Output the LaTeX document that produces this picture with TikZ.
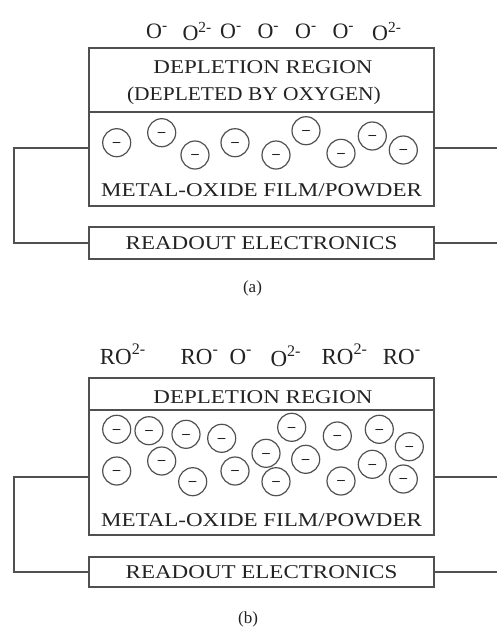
\documentclass[tikz,border=0pt]{standalone}
\usepackage{fontspec}
\setmainfont{Liberation Serif}
\newfontfamily\boxfont[FakeStretch=1.18]{Liberation Serif}
\newfontfamily\parenfont[FakeStretch=1.1]{Liberation Serif}
\definecolor{linec}{HTML}{505050}
\definecolor{textc}{HTML}{222222}
\begin{document}
\begin{tikzpicture}[x=1pt,y=-1pt,
  box/.style={draw=linec, line width=1.6pt, inner sep=0pt, minimum width=345pt, rectangle},
  boxtext/.style={font=\boxfont\fontsize{19.5}{24}\selectfont, text=textc, inner sep=0pt, anchor=base},
  readbox/.style={box, font=\boxfont\fontsize{19.5}{24}\selectfont, text=textc},
  elec/.style={circle, draw=linec, line width=1.2pt, minimum size=28pt, inner sep=0pt,
    font=\bfseries\fontsize{15}{15}\selectfont, text height=7.4pt, text depth=0pt, text=textc},
  ion/.style={anchor=base west, inner sep=0pt, text=textc},
  ionA/.style={ion, font=\fontsize{22}{22}\selectfont},
  ionB/.style={ion, font=\fontsize{23}{23}\selectfont},
  wire/.style={draw=linec, line width=1.6pt},
  caption/.style={anchor=base, inner sep=0pt, text=textc, font=\fontsize{17}{17}\selectfont}]
\useasboundingbox (0,0) rectangle (497,630);

% ---------------- (a) ----------------
\node[ionA] (ionA1) at (146,38) {O\textsuperscript{-}};
\node[ionA] (ionA2) at (182.3,40.4) {O\textsuperscript{2-}};
\node[ionA] (ionA3) at (220,38) {O\textsuperscript{-}};
\node[ionA] (ionA4) at (257.3,38) {O\textsuperscript{-}};
\node[ionA] (ionA5) at (295,38) {O\textsuperscript{-}};
\node[ionA] (ionA6) at (332.3,38) {O\textsuperscript{-}};
\node[ionA] (ionA7) at (372,40.4) {O\textsuperscript{2-}};

\node[box, minimum height=64pt] (depA) at (261.5,80) {};
\node[box, minimum height=94pt] (filmA) at (261.5,159) {};
\node[readbox, minimum height=32pt] (readA) at (261.5,243) {READOUT ELECTRONICS};

\node[boxtext] (depA1) at (263,73.5) {DEPLETION REGION};
\node[boxtext] (depA2) at (254,100) {\parenfont (DEPLETED BY OXYGEN)};
\node[boxtext] (filmtA) at (261.5,196.7) {METAL-OXIDE FILM/POWDER};

\node[elec] (eA1) at (116.7,142.7) {\textendash};
\node[elec] (eA2) at (161.7,132.7) {\textendash};
\node[elec] (eA3) at (195,155) {\textendash};
\node[elec] (eA4) at (235,142.7) {\textendash};
\node[elec] (eA5) at (276,155) {\textendash};
\node[elec] (eA6) at (306,130.7) {\textendash};
\node[elec] (eA7) at (341,153.3) {\textendash};
\node[elec] (eA8) at (372.3,136) {\textendash};
\node[elec] (eA9) at (403.3,150) {\textendash};

\coordinate (rA1) at (497,148);
\coordinate (rA2) at (497,243);
\draw[wire] ([yshift=11pt]filmA.west) -- ++(-74,0) |- (readA.west);
\draw[wire] ([yshift=11pt]filmA.east) -- (rA1);
\draw[wire] (readA.east) -- (rA2);

\node[caption] (capA) at (252.5,292) {(a)};

% ---------------- (b) ----------------
\node[ionB] (ionB1) at (99.7,364) {RO\textsuperscript{2-}};
\node[ionB] (ionB2) at (180.4,364) {RO\textsuperscript{-}};
\node[ionB] (ionB3) at (229.3,364) {O\textsuperscript{-}};
\node[ionB] (ionB4) at (270.3,366) {O\textsuperscript{2-}};
\node[ionB] (ionB5) at (321.4,364) {RO\textsuperscript{2-}};
\node[ionB] (ionB6) at (382.7,364) {RO\textsuperscript{-}};

\node[box, minimum height=32pt] (depB) at (261.5,394) {};
\node[box, minimum height=125pt] (filmB) at (261.5,472.5) {};
\node[readbox, minimum height=30pt] (readB) at (261.5,572) {READOUT ELECTRONICS};

\node[boxtext] (depB1) at (263,403.3) {DEPLETION REGION};
\node[boxtext] (filmtB) at (261.5,526) {METAL-OXIDE FILM/POWDER};

\node[elec] (eB1) at (116.7,429.3) {\textendash};
\node[elec] (eB2) at (149,430.7) {\textendash};
\node[elec] (eB3) at (186,434.3) {\textendash};
\node[elec] (eB4) at (221.7,438.3) {\textendash};
\node[elec] (eB5) at (291.7,427.3) {\textendash};
\node[elec] (eB6) at (337.3,436) {\textendash};
\node[elec] (eB7) at (379.3,429.3) {\textendash};
\node[elec] (eB8) at (409.3,446.7) {\textendash};
\node[elec] (eB9) at (161.7,461) {\textendash};
\node[elec] (eB10) at (266,453.3) {\textendash};
\node[elec] (eB11) at (305.7,459.3) {\textendash};
\node[elec] (eB12) at (372.3,464.3) {\textendash};
\node[elec] (eB13) at (116.7,471) {\textendash};
\node[elec] (eB14) at (235,471) {\textendash};
\node[elec] (eB15) at (192.7,481.7) {\textendash};
\node[elec] (eB16) at (276,481.7) {\textendash};
\node[elec] (eB17) at (341,481) {\textendash};
\node[elec] (eB18) at (403.3,479) {\textendash};

\coordinate (rB1) at (497,477);
\coordinate (rB2) at (497,572);
\draw[wire] ([yshift=-4.5pt]filmB.west) -- ++(-74,0) |- (readB.west);
\draw[wire] ([yshift=-4.5pt]filmB.east) -- (rB1);
\draw[wire] (readB.east) -- (rB2);

\node[caption] (capB) at (248,623) {(b)};
\end{tikzpicture}
\end{document}
